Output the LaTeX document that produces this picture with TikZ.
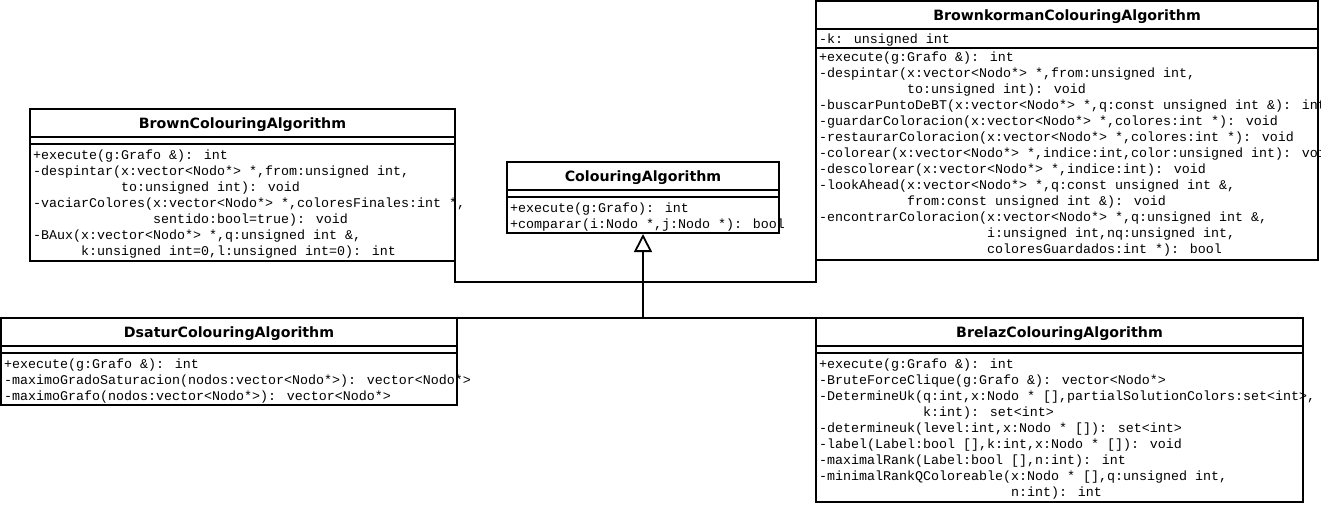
\documentclass[tikz,border=0pt]{standalone}
\usepackage{fontspec}
\usetikzlibrary{arrows.meta}
\newfontfamily\codefont{Liberation Mono}
\newfontfamily\titlefont{DejaVu Sans}
\newcommand{\fl}{\rule{0pt}{12pt}}
\begin{document}
\begin{tikzpicture}[x=1pt, y=-1pt, line join=miter,
    classbox/.style={draw, line width=1.6pt, inner sep=0pt, outer sep=0pt, anchor=north west},
    classname/.style={inner sep=0pt, font=\titlefont\bfseries\fontsize{14.2}{16}\selectfont},
    members/.style={inner sep=0pt, anchor=north west, align=left, font=\codefont\fontsize{13.33}{16}\selectfont},
    sep/.style={line width=1.6pt},
    inherit/.style={line width=1.8pt}]
    \useasboundingbox (0,0) rectangle (1321,504);
    \clip (0,0) rectangle (1321,504);
    \node[classbox, minimum width=425pt, minimum height=152pt] (brown) at (30,109) {};
    \node[classname] (brownName) at ([yshift=-15.5pt]brown.north) {BrownColouringAlgorithm};
    \draw[sep] ([yshift=-28pt]brown.north west) -- ([yshift=-28pt]brown.north east);
    \draw[sep] ([yshift=-35pt]brown.north west) -- ([yshift=-35pt]brown.north east);
    \node[members] (brownOps) at ([xshift=3pt,yshift=-38pt]brown.north west) {\fl+execute(g:Grafo \&): int\\
        -despintar(x:vector<Nodo*> *,from:unsigned int,\\
        \phantom{-despintar(}to:unsigned int): void\\
        -vaciarColores(x:vector<Nodo*> *,coloresFinales:int *,\\
        \phantom{-vaciarColores(}sentido:bool=true): void\\
        -BAux(x:vector<Nodo*> *,q:unsigned int \&,\\
        \phantom{-BAux(}k:unsigned int=0,l:unsigned int=0): int};
    \node[classbox, minimum width=272pt, minimum height=71pt] (colouring) at (507,162) {};
    \node[classname] (colouringName) at ([yshift=-15.5pt]colouring.north) {ColouringAlgorithm};
    \draw[sep] ([yshift=-28pt]colouring.north west) -- ([yshift=-28pt]colouring.north east);
    \draw[sep] ([yshift=-35pt]colouring.north west) -- ([yshift=-35pt]colouring.north east);
    \node[members] (colouringOps) at ([xshift=3pt,yshift=-38pt]colouring.north west) {\fl+execute(g:Grafo): int\\
        +comparar(i:Nodo *,j:Nodo *): bool};
    \node[classbox, minimum width=502pt, minimum height=259pt] (brownkorman) at (816,1) {};
    \node[classname] (brownkormanName) at ([yshift=-15.5pt]brownkorman.north) {BrownkormanColouringAlgorithm};
    \draw[sep] ([yshift=-28pt]brownkorman.north west) -- ([yshift=-28pt]brownkorman.north east);
    \draw[sep] ([yshift=-47pt]brownkorman.north west) -- ([yshift=-47pt]brownkorman.north east);
    \node[members] (brownkormanAttr) at ([xshift=3pt,yshift=-30pt]brownkorman.north west) {\fl-k: unsigned int};
    \node[members] (brownkormanOps) at ([xshift=3pt,yshift=-48pt]brownkorman.north west) {\fl+execute(g:Grafo \&): int\\
        -despintar(x:vector<Nodo*> *,from:unsigned int,\\
        \phantom{-despintar(}to:unsigned int): void\\
        -buscarPuntoDeBT(x:vector<Nodo*> *,q:const unsigned int \&): int\\
        -guardarColoracion(x:vector<Nodo*> *,colores:int *): void\\
        -restaurarColoracion(x:vector<Nodo*> *,colores:int *): void\\
        -colorear(x:vector<Nodo*> *,indice:int,color:unsigned int): void\\
        -descolorear(x:vector<Nodo*> *,indice:int): void\\
        -lookAhead(x:vector<Nodo*> *,q:const unsigned int \&,\\
        \phantom{-lookAhead(}from:const unsigned int \&): void\\
        -encontrarColoracion(x:vector<Nodo*> *,q:unsigned int \&,\\
        \phantom{-encontrarColoracion(}i:unsigned int,nq:unsigned int,\\
        \phantom{-encontrarColoracion(}coloresGuardados:int *): bool};
    \node[classbox, minimum width=456pt, minimum height=87pt] (dsatur) at (1,318) {};
    \node[classname] (dsaturName) at ([yshift=-15.5pt]dsatur.north) {DsaturColouringAlgorithm};
    \draw[sep] ([yshift=-28pt]dsatur.north west) -- ([yshift=-28pt]dsatur.north east);
    \draw[sep] ([yshift=-35pt]dsatur.north west) -- ([yshift=-35pt]dsatur.north east);
    \node[members] (dsaturOps) at ([xshift=3pt,yshift=-38pt]dsatur.north west) {\fl+execute(g:Grafo \&): int\\
        -maximoGradoSaturacion(nodos:vector<Nodo*>): vector<Nodo*>\\
        -maximoGrafo(nodos:vector<Nodo*>): vector<Nodo*>};
    \node[classbox, minimum width=487pt, minimum height=184pt] (brelaz) at (816,318) {};
    \node[classname] (brelazName) at ([yshift=-15.5pt]brelaz.north) {BrelazColouringAlgorithm};
    \draw[sep] ([yshift=-28pt]brelaz.north west) -- ([yshift=-28pt]brelaz.north east);
    \draw[sep] ([yshift=-35pt]brelaz.north west) -- ([yshift=-35pt]brelaz.north east);
    \node[members] (brelazOps) at ([xshift=3pt,yshift=-38pt]brelaz.north west) {\fl+execute(g:Grafo \&): int\\
        -BruteForceClique(g:Grafo \&): vector<Nodo*>\\
        -DetermineUk(q:int,x:Nodo * [],partialSolutionColors:set<int>,\\
        \phantom{-DetermineUk(}k:int): set<int>\\
        -determineuk(level:int,x:Nodo * []): set<int>\\
        -label(Label:bool [],k:int,x:Nodo * []): void\\
        -maximalRank(Label:bool [],n:int): int\\
        -minimalRankQColoreable(x:Nodo * [],q:unsigned int,\\
        \phantom{-minimalRankQColoreable(}n:int): int};
    \coordinate (joinTop) at (colouring.south |- 0,282);
    \coordinate (joinBottom) at (colouring.south |- 0,318);
    \draw[inherit] (brown.south east) |- (joinTop);
    \draw[inherit] (brownkorman.south west) |- (joinTop);
    \draw[inherit] (dsatur.north east) -- (joinBottom);
    \draw[inherit] (brelaz.north west) -- (joinBottom);
    \draw[inherit, -{Triangle[open, length=18pt, width=18pt, fill=white]}] (joinBottom) -- ([yshift=-1pt]colouring.south);
\end{tikzpicture}
\end{document}
